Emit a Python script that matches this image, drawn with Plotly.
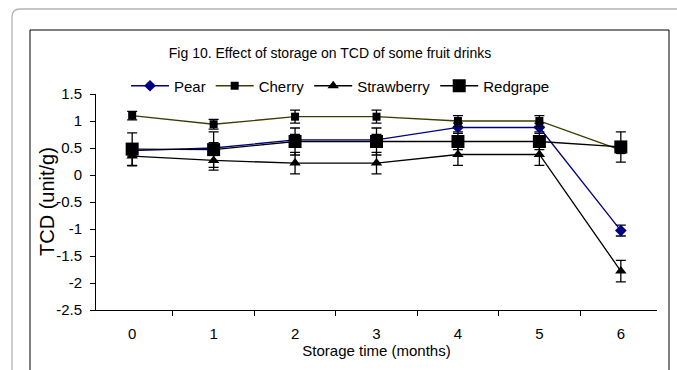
import plotly.graph_objects as go

months = ["0", "1", "2", "3", "4", "5", "6"]

pear = [0.45, 0.50, 0.65, 0.65, 0.88, 0.88, -1.03]
pear_err = [0.10, 0.10, 0.10, 0.10, 0.08, 0.08, 0.10]

cherry = [1.10, 0.94, 1.08, 1.08, 1.00, 1.00, 0.46]
cherry_err = [0.08, 0.09, 0.12, 0.12, 0.10, 0.10, 0.06]

strawberry = [0.35, 0.27, 0.22, 0.22, 0.38, 0.38, -1.78]
strawberry_err = [0.18, 0.18, 0.20, 0.20, 0.20, 0.20, 0.20]

redgrape = [0.48, 0.47, 0.62, 0.62, 0.62, 0.62, 0.52]
redgrape_err = [0.30, 0.33, 0.25, 0.25, 0.15, 0.15, 0.28]

y_tick_vals = [1.5, 1, 0.5, 0, -0.5, -1, -1.5, -2, -2.5]
y_tick_text = ["1.5", "1", "0.5", "0", "-0.5", "-1", "-1.5", "-2", "-2.5"]

FONT = "Liberation Sans, Arial, sans-serif"

W, H = 677, 370
L, R, T, B = 96, 20, 94, 60
PW, PH = W - L - R, H - T - B


def px(x):
    return (x - L) / PW


def py(y):
    return (H - B - y) / PH


fig = go.Figure()


def add(name, y, err, line_color, marker_color, symbol, size):
    fig.add_trace(go.Scatter(
        x=months, y=y, name=name, mode="lines+markers",
        line=dict(color=line_color, width=1.3),
        marker=dict(symbol=symbol, size=size, color=marker_color),
        error_y=dict(type="data", array=err, visible=True,
                     color="black", thickness=1.3, width=5),
    ))


add("Pear", pear, pear_err, "#000080", "#000080", "diamond", 9)
add("Cherry", cherry, cherry_err, "#3c3c00", "black", "square", 8)
add("Strawberry", strawberry, strawberry_err, "black", "black", "triangle-up", 10)
add("Redgrape", redgrape, redgrape_err, "black", "black", "square", 13)

# outer rounded frame (light gray) and inner black chart frame
r = 8
path = (f"M {px(12)},{py(400)} L {px(12)},{py(9 + r)} "
        f"Q {px(12)},{py(9)} {px(12 + r)},{py(9)} L {px(700)},{py(9)}")
shapes = [
    dict(type="path", xref="paper", yref="paper", path=path,
         line=dict(color="#b4b4b4", width=1.3)),
    dict(type="rect", xref="paper", yref="paper",
         x0=px(30), x1=px(669), y0=py(400), y1=py(30),
         line=dict(color="black", width=1)),
]

fig.update_layout(
    width=W, height=H,
    margin=dict(l=L, r=R, t=T, b=B, autoexpand=False),
    paper_bgcolor="white", plot_bgcolor="white",
    font=dict(family=FONT, size=14, color="black"),
    shapes=shapes,
    title=dict(text="Fig 10. Effect of storage on TCD of some fruit drinks",
               x=330 / W, xanchor="center", xref="container",
               y=1 - 53 / H, yanchor="middle", yref="container",
               font=dict(size=14, family=FONT)),
    legend=dict(orientation="h", x=px(126), y=py(86), xanchor="left",
                yanchor="middle", font=dict(size=15, family=FONT),
                bgcolor="rgba(0,0,0,0)", itemwidth=38, tracegroupgap=0),
    showlegend=True,
    annotations=[dict(text="TCD (unit/g)", textangle=-90, xref="paper",
                      yref="paper", x=px(47), y=py(202), showarrow=False,
                      xanchor="center", yanchor="middle",
                      font=dict(size=20, family=FONT))],
    xaxis=dict(type="category", tickson="boundaries", ticks="outside",
               ticklen=5, tickcolor="black", showline=True, linecolor="black",
               linewidth=1, showgrid=False, zeroline=False,
               tickfont=dict(size=15), automargin=False, ticklabelstandoff=10,
               title=dict(text="Storage time (months)", font=dict(size=15),
                          standoff=2)),
    yaxis=dict(range=[-2.5, 1.5], tickvals=y_tick_vals, ticktext=y_tick_text,
               ticks="outside", ticklen=5, tickcolor="black", showline=True,
               linecolor="black", linewidth=1, showgrid=False, zeroline=False,
               tickfont=dict(size=15), automargin=False, ticklabelstandoff=5),
)

fig.write_html("out.html", config={"displayModeBar": False},
               post_script="document.body.style.margin='0';"
                           "document.body.style.overflow='hidden';")
